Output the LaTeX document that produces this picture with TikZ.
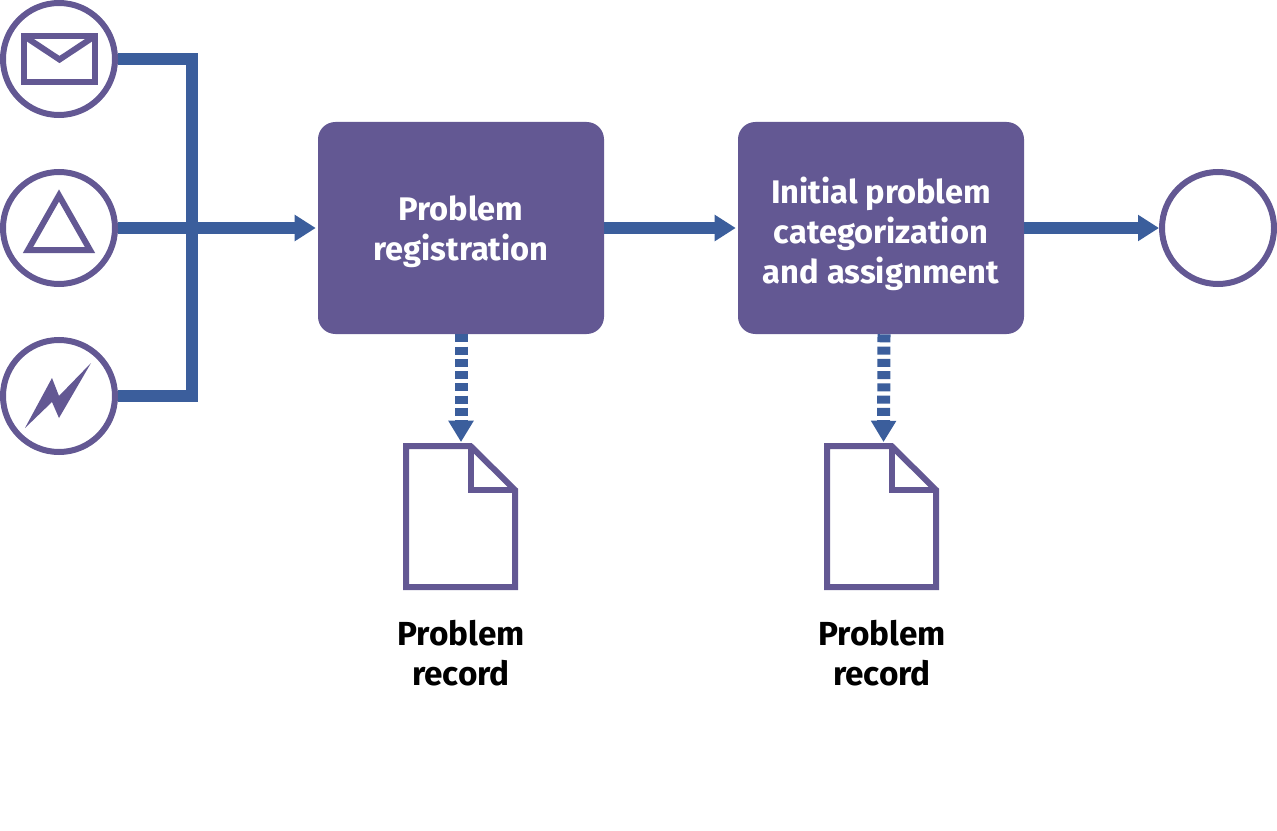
\documentclass[tikz,border=0pt]{standalone}
\usepackage{fontspec}
\setmainfont{Fira Sans}
\usetikzlibrary{arrows.meta}
\definecolor{procpurple}{HTML}{635893}
\definecolor{flowblue}{HTML}{3B5E9C}
\tikzset{
  event/.style={circle, draw=procpurple, line width=4.5pt, fill=white, minimum size=84pt, inner sep=0pt},
  task/.style={rectangle, rounded corners=13pt, fill=procpurple, minimum width=214.5pt, minimum height=159pt},
  tasklabel/.style={align=center, text=white, yshift=-3pt, font=\fontsize{24.5}{30}\selectfont\bfseries},
  doclabel/.style={align=center, text=black, font=\fontsize{25}{30}\selectfont\bfseries},
  docbox/.style={minimum width=86.25pt, minimum height=110.25pt, inner sep=0pt},
  flow/.style={flowblue, line width=9pt},
  arrowflow/.style={flow, -{Triangle[length=15.75pt,width=18.75pt]}, shorten >=1.5pt},
  dataflow/.style={flowblue, line width=9.75pt, dash pattern=on 6pt off 3.2pt, -{Triangle[length=16pt,width=18pt]}, shorten >=0.5pt},
  icon/.style={procpurple, line width=4.5pt, miter limit=10}
}
\begin{document}
\begin{tikzpicture}[x=0.75pt, y=-0.75pt]
    \useasboundingbox (0,0) rectangle (1277,831);
    \fill[white] (0,0) rectangle (1277,831);

    % Start events
    \node[event] (mail) at (59,59) {};
    \node[event] (signal) at (59,228) {};
    \node[event] (bolt) at (59,396) {};

    % Tasks and end event
    \node[task, label={[tasklabel]center:Problem\\registration}] (register) at (461,228) {};
    \node[task, label={[tasklabel, yshift=-1.5pt]center:Initial problem\\categorization\\and assignment}] (assign) at (881,228) {};
    \node[event] (finish) at (1218,228) {};

    % Icons inside the start events
    \draw[icon] (24,36) rectangle (95,82);
    \draw[icon] (24,36) -- (59.5,59.5) -- (95,36);
    \draw[icon] (59,195.5) -- (90,250) -- (28,250) -- cycle;
    \fill[procpurple] (25,428) -- (52,378) -- (59,396) -- (91,363) -- (59,418) -- (52,402) -- cycle;

    % Documents
    \foreach \docname/\docx in {recordA/460.5, recordB/881.5} {
        \node[docbox] (\docname) at (\docx,516.5) {};
        \draw[icon] (\docx-54.5,446) -- (\docx+10,446) -- (\docx+54.5,490) -- (\docx+54.5,587) -- (\docx-54.5,587) -- cycle;
        \draw[icon] (\docx+10,446) -- (\docx+10,490) -- (\docx+54.5,490);
    }
    \node[doclabel] (labelA) at (461,653) {Problem\\record};
    \node[doclabel] (labelB) at (882,653) {Problem\\record};

    % Connectors
    \coordinate (joint) at (192,228);
    \draw[flow] (mail.east) -| (joint);
    \draw[flow] (bolt.east) -| (joint);
    \draw[arrowflow] (signal.east) -- (register.west);
    \draw[arrowflow] (register.east) -- (assign.west);
    \draw[arrowflow, shorten >=0pt] (assign.east) -- (finish.west);
    \draw[dataflow] (register.south) -- (recordA.north -| register.south);
    \draw[dataflow] ([xshift=2.25pt]assign.south) -- ([xshift=1.5pt]recordB.north);
\end{tikzpicture}
\end{document}
